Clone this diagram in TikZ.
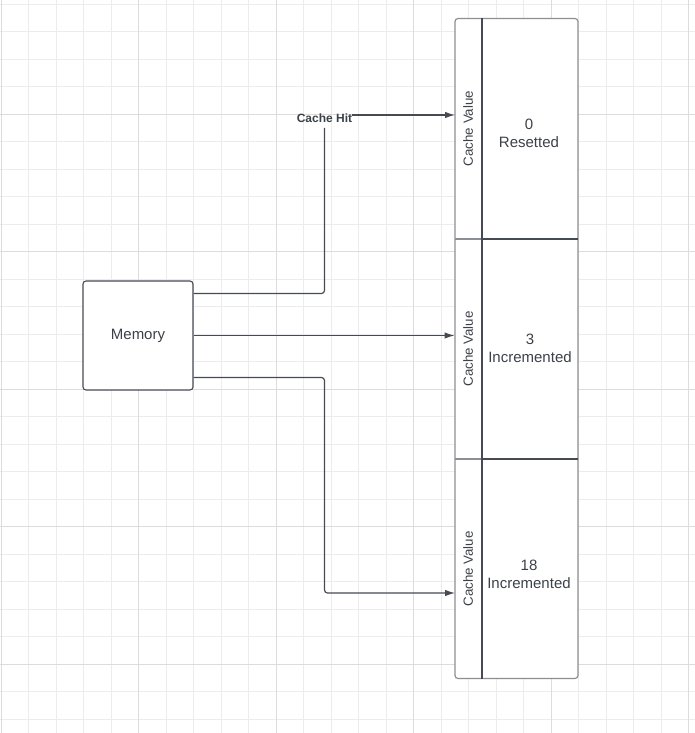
\documentclass[tikz,border=0pt]{standalone}
\usepackage{fontspec}
\setmainfont{Liberation Sans}
\usetikzlibrary{arrows.meta}
\definecolor{ink}{HTML}{464B53}
\definecolor{txt}{HTML}{3C4149}
\definecolor{gridminor}{HTML}{ECECEC}
\definecolor{gridmajor}{HTML}{DCDCDC}
\definecolor{frame}{HTML}{8C8F93}
\begin{document}
\begin{tikzpicture}[x=1pt,y=-1pt,
  minorline/.style={draw=gridminor,line width=1pt},
  majorline/.style={draw=gridmajor,line width=1pt},
  membox/.style={draw=ink,line width=1.1pt,rounded corners=3pt,minimum width=110pt,minimum height=109pt,inner sep=0pt,font=\fontsize{15}{18}\selectfont,text=txt},
  hdrcell/.style={draw=none,minimum width=27.5pt,minimum height=220pt,inner sep=0pt},
  valcell/.style={draw=none,minimum width=96pt,minimum height=220pt,inner sep=0pt},
  hdrtext/.style={rotate=90,inner sep=0pt,font=\fontsize{13.3}{16}\selectfont,text=txt},
  valtext/.style={align=center,inner sep=0pt,font=\fontsize{15}{18}\selectfont,text=txt},
  hitlabel/.style={inner xsep=0pt,inner ysep=4.5pt,font=\bfseries\fontsize{12}{14}\selectfont,text=txt},
  conn/.style={draw=ink,line width=1.2pt},
  arrowconn/.style={conn,-{Latex[length=10pt,width=6.5pt]}},
  darkline/.style={draw=ink,line width=1.2pt},
  frameline/.style={draw=frame,line width=1.2pt}]
\useasboundingbox (0,0) rectangle (695,733);
\fill[white] (0,0) rectangle (695,733);
% grid
\foreach \i in {0,...,25} \draw[minorline] (1.3+27.5*\i,0) -- (1.3+27.5*\i,733);
\foreach \j in {0,...,26} \draw[minorline] (0,4.3+27.5*\j) -- (695,4.3+27.5*\j);
\foreach \i in {0,...,5} \draw[majorline] (1.3+137.5*\i,0) -- (1.3+137.5*\i,733);
\foreach \j in {0,...,4} \draw[majorline] (0,114.3+137.5*\j) -- (695,114.3+137.5*\j);
% memory
\node[membox,fill=white] (memory) at (138,335.5) {Memory};
% container
\fill[white,rounded corners=3pt] (455,18.5) rectangle (578,678.5);
\node[hdrcell] (hdr1) at (468.5,128.75) {};
\node[hdrcell] (hdr2) at (468.5,349) {};
\node[hdrcell] (hdr3) at (468.5,568.75) {};
\node[valcell] (cell1) at (530,128.75) {};
\node[valcell] (cell2) at (530,349) {};
\node[valcell] (cell3) at (530,568.75) {};
\draw[frameline,rounded corners=3pt] (455,18.5) rectangle (578,678.5);
\draw[frameline] (455,239) -- (482,239);
\draw[frameline] (455,459) -- (482,459);
\draw[darkline] (482,18.5) -- (482,678.5);
\draw[darkline] (482,239) -- (578,239);
\draw[darkline] (482,459) -- (578,459);
\node[hdrtext] (h1) at (468,128.5) {Cache Value};
\node[hdrtext] (h2) at (468,349) {Cache Value};
\node[hdrtext] (h3) at (468,569) {Cache Value};
\node[valtext] (v1) at (529,133) {0\\Resetted};
\node[valtext] (v2) at (530,348) {3\\Incremented};
\node[valtext] (v3) at (529,574) {18\\Incremented};
% connectors
\coordinate (in1) at (455,115);
\coordinate (in3) at (455,593);
\node[hitlabel] (hit) at (324.5,118.7) {Cache Hit};
\draw[conn,rounded corners=3pt] ([yshift=42pt]memory.east) -| (hit.south);
\draw[arrowconn] (hit.east |- in1) -- (in1);
\draw[arrowconn] (memory.east) -- (hdr2.west |- memory.east);
\draw[arrowconn,rounded corners=3pt] ([yshift=-42pt]memory.east) -| (324.5,593) -- (in3);
\end{tikzpicture}
\end{document}
